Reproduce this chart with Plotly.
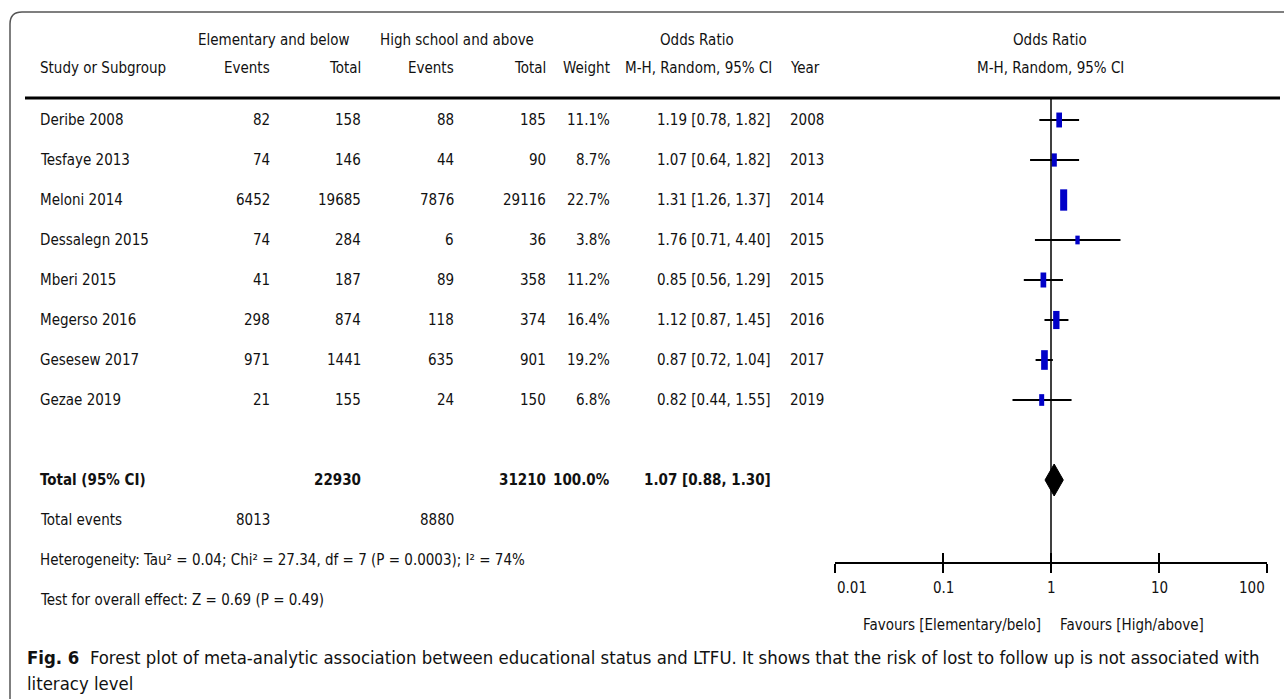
import math
import plotly.graph_objects as go

# ---- data ---------------------------------------------------------------
studies = ["Deribe 2008", "Tesfaye 2013", "Meloni 2014", "Dessalegn 2015",
           "Mberi 2015", "Megerso 2016", "Gesesew 2017", "Gezae 2019"]
events_low = [82, 74, 6452, 74, 41, 298, 971, 21]
total_low = [158, 146, 19685, 284, 187, 874, 1441, 155]
events_high = [88, 44, 7876, 6, 89, 118, 635, 24]
total_high = [185, 90, 29116, 36, 358, 374, 901, 150]
weights = [11.1, 8.7, 22.7, 3.8, 11.2, 16.4, 19.2, 6.8]
odds_ratio = [1.19, 1.07, 1.31, 1.76, 0.85, 1.12, 0.87, 0.82]
ci_low = [0.78, 0.64, 1.26, 0.71, 0.56, 0.87, 0.72, 0.44]
ci_high = [1.82, 1.82, 1.37, 4.40, 1.29, 1.45, 1.04, 1.55]
years = [2008, 2013, 2014, 2015, 2015, 2016, 2017, 2019]

pooled_total_low = 22930
pooled_total_high = 31210
pooled_weight = 100.0
pooled_or = 1.07
pooled_low = 0.88
pooled_high = 1.30
total_events_low = 8013
total_events_high = 8880

heterogeneity = "Heterogeneity: Tau² = 0.04; Chi² = 27.34, df = 7 (P = 0.0003); I² = 74%"
overall_test = "Test for overall effect: Z = 0.69 (P = 0.49)"
axis_ticks = [0.01, 0.1, 1, 10, 100]
axis_tick_labels = ["0.01", "0.1", "1", "10", "100"]
favours_left = "Favours [Elementary/belo]"
favours_right = "Favours [High/above]"
caption_bold = "Fig. 6"
caption_text = ("Forest plot of meta-analytic association between educational status and LTFU. "
                "It shows that the risk of lost to follow up is not associated with")
caption_line2 = "literacy level"

# ---- layout geometry ----------------------------------------------------
W, H = 1284, 699
ROW0 = 120      # pixel centre of the first study row
ROW_H = 40      # pixel height of one row
FONT = "DejaVu Sans Condensed, Liberation Sans Narrow, sans-serif"
CAP_FONT = "DejaVu Sans Condensed, sans-serif"
FS = 15
TXT = "#111111"
BLUE = "#0000c8"


def px(x):
    return x / W


def py(y):
    return 1 - y / H


def row_of(y_px):
    return (y_px - ROW0) / ROW_H


n = len(studies)
row_total = n + 1
row_events = n + 2
row_het = n + 3
row_test = n + 4
axis_y = 563

fig = go.Figure()

# confidence interval whiskers
cx, cy = [], []
for i in range(n):
    cx += [ci_low[i], ci_high[i], None]
    cy += [i, i, None]
fig.add_trace(go.Scatter(x=cx, y=cy, mode="lines",
                         line=dict(color="black", width=2),
                         hoverinfo="skip", showlegend=False))

# weighted study boxes (upright blocks whose size follows the weight)
for i in range(n):
    h = 3.2 * weights[i] ** 0.5
    w = 2.5 + 0.95 * weights[i] ** 0.5
    fig.add_trace(go.Scatter(x=[odds_ratio[i]], y=[i], mode="markers",
                             marker=dict(symbol="line-ns", size=h,
                                         line=dict(color=BLUE, width=w)),
                             hoverinfo="skip", showlegend=False))

# pooled diamond
dh = 0.4
fig.add_trace(go.Scatter(
    x=[pooled_low, pooled_or, pooled_high, pooled_or, pooled_low],
    y=[row_total, row_total - dh, row_total, row_total + dh, row_total],
    mode="lines", fill="toself", fillcolor="black",
    line=dict(color="black", width=1), hoverinfo="skip", showlegend=False))

# companion trace for the upward tick axis
fig.add_trace(go.Scatter(x=[1], y=[row_total], xaxis="x2", mode="markers",
                         marker=dict(opacity=0), hoverinfo="skip",
                         showlegend=False))

ann = []


def text(x, y, s, anchor="left", size=FS, bold=False, yref="y", font=FONT):
    if bold:
        s = "<b>" + s + "</b>"
    ann.append(dict(x=px(x), y=y, xref="paper", yref=yref, text=s,
                    showarrow=False, xanchor=anchor, yanchor="middle",
                    font=dict(family=font, size=size, color=TXT)))


# column positions (right edges for numbers)
C_STUDY = 38
C_EV1, C_TOT1 = 272, 363
C_EV2, C_TOT2 = 456, 548
C_W = 612
C_OR = 773
C_YEAR = 788

# header rows
hr1, hr2 = row_of(40), row_of(68)
text(274, hr1, "Elementary and below", "center")
text(457, hr1, "High school and above", "center")
text(697, hr1, "Odds Ratio", "center")
text(1050, hr1, "Odds Ratio", "center")
text(C_STUDY, hr2, "Study or Subgroup")
text(C_EV1, hr2, "Events", "right")
text(C_TOT1, hr2, "Total", "right")
text(C_EV2, hr2, "Events", "right")
text(C_TOT2, hr2, "Total", "right")
text(C_W, hr2, "Weight", "right")
text(698, hr2, "M-H, Random, 95% CI", "center")
text(C_YEAR, hr2, "Year")
text(1050, hr2, "M-H, Random, 95% CI", "center")

# study rows
for i in range(n):
    text(C_STUDY, i, studies[i])
    text(C_EV1, i, str(events_low[i]), "right")
    text(C_TOT1, i, str(total_low[i]), "right")
    text(C_EV2, i, str(events_high[i]), "right")
    text(C_TOT2, i, str(total_high[i]), "right")
    text(C_W, i, f"{weights[i]:.1f}%", "right")
    text(C_OR, i, f"{odds_ratio[i]:.2f} [{ci_low[i]:.2f}, {ci_high[i]:.2f}]", "right")
    text(C_YEAR, i, str(years[i]))

# pooled rows
text(C_STUDY, row_total, "Total (95% CI)", bold=True)
text(C_TOT1, row_total, str(pooled_total_low), "right", bold=True)
text(C_TOT2, row_total, str(pooled_total_high), "right", bold=True)
text(C_W, row_total, f"{pooled_weight:.1f}%", "right", bold=True)
text(C_OR, row_total, f"{pooled_or:.2f} [{pooled_low:.2f}, {pooled_high:.2f}]", "right", bold=True)
text(C_STUDY, row_events, "Total events")
text(C_EV1, row_events, str(total_events_low), "right")
text(C_EV2, row_events, str(total_events_high), "right")
text(C_STUDY, row_het, heterogeneity)
text(C_STUDY, row_test, overall_test)

# axis tick labels: the outer ones sit inside the axis ends
tick_row = row_of(588)
for k, (v, lab) in enumerate(zip(axis_ticks, axis_tick_labels)):
    anchor = "left" if k == 0 else ("right" if k == len(axis_ticks) - 1 else "center")
    ann.append(dict(x=math.log10(v), y=tick_row, xref="x", yref="y", text=lab,
                    showarrow=False, xanchor=anchor, yanchor="middle",
                    font=dict(family=FONT, size=FS, color=TXT)))

# favours labels under the axis
text(1043, row_of(625), favours_left, "right")
text(1058, row_of(625), favours_right, "left")

# caption
ann.append(dict(x=px(25), y=py(657), xref="paper", yref="paper",
                text=f"<b>{caption_bold}</b>  {caption_text}", showarrow=False,
                xanchor="left", yanchor="middle",
                font=dict(family=CAP_FONT, size=18.4, color=TXT)))
ann.append(dict(x=px(25), y=py(683), xref="paper", yref="paper",
                text=caption_line2, showarrow=False,
                xanchor="left", yanchor="middle",
                font=dict(family=CAP_FONT, size=18.4, color=TXT)))

shapes = [
    # rounded outer frame
    dict(type="path", xref="paper", yref="paper",
         path=(f"M {px(1300)},{py(12)} L {px(22)},{py(12)} "
               f"Q {px(10)},{py(12)} {px(10)},{py(24)} L {px(10)},{py(710)}"),
         line=dict(color="#555555", width=1.5)),
    # thick rule under the header
    dict(type="line", xref="paper", yref="y", x0=px(25), x1=px(1280),
         y0=row_of(98), y1=row_of(98), line=dict(color="black", width=3)),
    # line of no effect
    dict(type="line", xref="x", yref="y", x0=1, x1=1,
         y0=row_of(98), y1=row_of(axis_y), line=dict(color="black", width=1.5)),
]

x_dom = [px(835), px(1267)]
fig.update_layout(
    width=W, height=H,
    margin=dict(l=0, r=0, t=0, b=0),
    paper_bgcolor="white", plot_bgcolor="white",
    showlegend=False,
    annotations=ann, shapes=shapes,
    xaxis=dict(type="log", range=[-2, 2], domain=x_dom, anchor="free",
               position=py(axis_y), showline=True, linecolor="black",
               linewidth=2, ticks="outside", ticklen=9, tickwidth=1.5,
               tickcolor="black", tickvals=axis_ticks, showticklabels=False,
               showgrid=False, zeroline=False, fixedrange=True),
    xaxis2=dict(type="log", range=[-2, 2], domain=x_dom, overlaying="x",
                anchor="free", position=py(axis_y), side="bottom",
                ticks="inside", ticklen=10, tickwidth=1.5, tickcolor="black",
                tickvals=axis_ticks, showticklabels=False, showline=False,
                showgrid=False, zeroline=False),
    yaxis=dict(range=[row_of(H), row_of(0)], domain=[0, 1], visible=False,
               fixedrange=True),
)

fig.write_html("out.html")
